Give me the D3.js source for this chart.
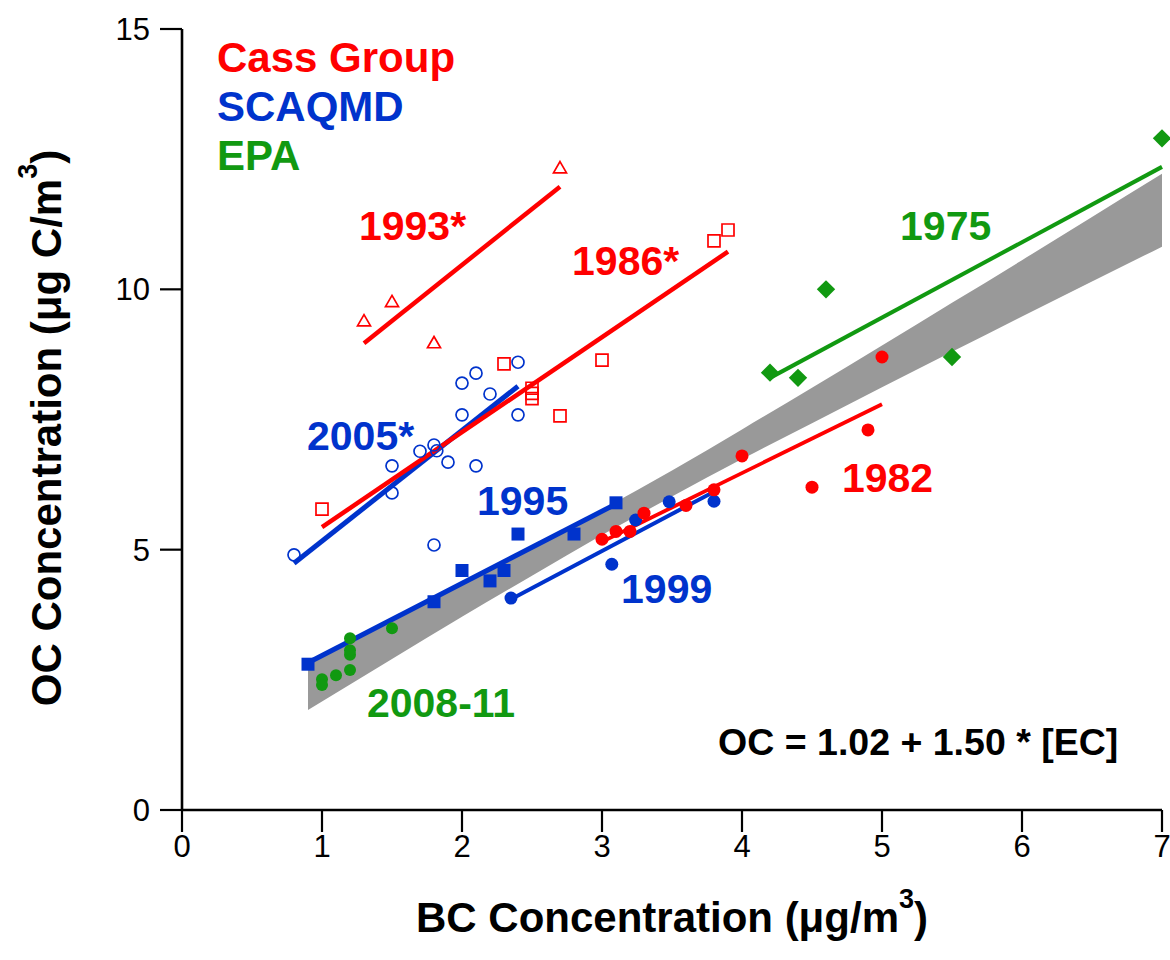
<!DOCTYPE html>
<html>
<head>
<meta charset="utf-8">
<script src="https://cdn.jsdelivr.net/npm/d3@7"></script>
<style>
  body { margin: 0; background: #fff; }
  svg { display: block; font-family: "Liberation Sans", Arial, Helvetica, sans-serif; }
</style>
</head>
<body>
<svg id="chart" width="1170" height="960"></svg>
<script>
// ---- axis ticks ----
const xTicks = [0, 1, 2, 3, 4, 5, 6, 7];
const yTicks = [0, 5, 10, 15];

// ---- Cass Group ----
const cass1993X = [1.3, 1.5, 1.8, 2.7];
const cass1993Y = [9.37, 9.74, 8.95, 12.31];
const cass1986X = [1.0, 2.3, 2.5, 2.5, 2.5, 2.7, 3.0, 3.8, 3.9];
const cass1986Y = [5.78, 8.57, 8.1, 8.0, 7.9, 7.57, 8.64, 10.93, 11.14];
const cass1982X = [3.0, 3.1, 3.2, 3.3, 3.6, 3.8, 4.0, 4.5, 4.9, 5.0];
const cass1982Y = [5.2, 5.35, 5.35, 5.7, 5.85, 6.15, 6.8, 6.2, 7.3, 8.7];

// ---- SCAQMD ----
const scaq2005X = [0.8, 1.5, 1.5, 1.7, 1.8, 1.82, 1.9, 2.1, 2.0, 2.0, 2.1, 2.2, 2.4, 2.4, 1.8];
const scaq2005Y = [4.9, 6.09, 6.61, 6.89, 7.01, 6.9, 6.68, 6.61, 7.59, 8.2, 8.39, 7.99, 8.6, 7.59, 5.09];
const scaq1995X = [0.9, 1.8, 2.0, 2.2, 2.3, 2.4, 2.8, 3.1];
const scaq1995Y = [2.8, 4.0, 4.6, 4.4, 4.6, 5.3, 5.3, 5.9];
const scaq1999X = [2.35, 3.07, 3.24, 3.48, 3.8];
const scaq1999Y = [4.07, 4.72, 5.57, 5.92, 5.93];

// ---- EPA ----
const epa1975X = [4.2, 4.4, 4.6, 5.5, 7.0];
const epa1975Y = [8.4, 8.3, 10.0, 8.7, 12.9];
const epa2008X = [1.0, 1.0, 1.1, 1.2, 1.2, 1.2, 1.2, 1.5];
const epa2008Y = [2.51, 2.40, 2.59, 2.69, 2.98, 3.07, 3.30, 3.49];

// ---- pooled fit OC = 1.02 + 1.50*[EC] with its confidence band ----
const bandX    = [0.9, 1.5, 2.0, 2.5, 3.0, 3.5, 4.0, 4.5, 5.0, 5.5, 6.0, 6.5, 7.0];
const bandLow  = [1.92, 2.90, 3.71, 4.50, 5.28, 6.02, 6.74, 7.43, 8.12, 8.80, 9.48, 10.15, 10.82];
const bandHigh = [2.82, 3.64, 4.33, 5.04, 5.77, 6.52, 7.31, 8.11, 8.92, 9.74, 10.56, 11.39, 12.22];

// ---- group legend ----
const groupNames = ["Cass Group", "SCAQMD", "EPA"];

// ---------------------------------------------------------------
const RED = "#ff0000", BLUE = "#0033cc", GREEN = "#119911", GREY = "#999999";

const svg = d3.select("#chart");
const x = d3.scaleLinear().domain([0, 7]).range([182, 1162]);
const y = d3.scaleLinear().domain([0, 15]).range([810, 29]);

const zip = (xs, ys) => xs.map((v, i) => ({ x: v, y: ys[i] }));

// ordinary least-squares line over the span of the data
function fitLine(pts) {
  const mx = d3.mean(pts, d => d.x), my = d3.mean(pts, d => d.y);
  const sxy = d3.sum(pts, d => (d.x - mx) * (d.y - my));
  const sxx = d3.sum(pts, d => (d.x - mx) ** 2);
  const b = sxy / sxx, a = my - b * mx;
  const [x0, x1] = d3.extent(pts, d => d.x);
  return [{ x: x0, y: a + b * x0 }, { x: x1, y: a + b * x1 }];
}

const series = [
  { pts: zip(scaq2005X, scaq2005Y), color: BLUE, shape: "circle", open: true, size: 6, fit: true, lw: 5 },
  { pts: zip(scaq1995X, scaq1995Y), color: BLUE, shape: "square", open: false, size: 13, fit: true, lw: 5 },
  { pts: zip(scaq1999X, scaq1999Y), color: BLUE, shape: "circle", open: false, size: 6.5, fit: true, lw: 4 },
  { pts: zip(cass1993X, cass1993Y), color: RED, shape: "triangle", open: true, size: 13, fit: true, lw: 4.5 },
  { pts: zip(cass1986X, cass1986Y), color: RED, shape: "square", open: true, size: 12, fit: true, lw: 4.5 },
  { pts: zip(cass1982X, cass1982Y), color: RED, shape: "circle", open: false, size: 6.5, fit: true, lw: 3.8 },
  { pts: zip(epa1975X, epa1975Y), color: GREEN, shape: "diamond", open: false, size: 13, fit: true, lw: 4 },
  { pts: zip(epa2008X, epa2008Y), color: GREEN, shape: "circle", open: false, size: 6, fit: false }
];

// confidence band
const area = d3.area()
  .x((d, i) => x(bandX[i]))
  .y0((d, i) => y(bandLow[i]))
  .y1((d, i) => y(bandHigh[i]))
  .curve(d3.curveMonotoneX);
svg.append("path").datum(bandX).attr("d", area).attr("fill", GREY);

// fit lines
const line = d3.line().x(d => x(d.x)).y(d => y(d.y));
series.filter(s => s.fit).forEach(s => {
  svg.append("path").datum(fitLine(s.pts)).attr("d", line)
    .attr("fill", "none").attr("stroke", s.color).attr("stroke-width", s.lw);
});

// markers
function markerPath(shape, size) {
  if (shape === "triangle") return d3.symbol(d3.symbolTriangle, size * size * Math.sqrt(3) / 4)();
  return d3.symbol(d3.symbolSquare, size * size)();
}
series.forEach(s => {
  const g = svg.append("g");
  const sel = g.selectAll("path.m").data(s.pts).join(s.shape === "circle" ? "circle" : "path");
  if (s.shape === "circle") {
    sel.attr("cx", d => x(d.x)).attr("cy", d => y(d.y)).attr("r", s.size);
  } else {
    sel.attr("d", markerPath(s.shape, s.size))
      .attr("transform", d => `translate(${x(d.x)},${y(d.y)})` + (s.shape === "diamond" ? " rotate(45)" : ""));
  }
  if (s.open) sel.attr("fill", "none").attr("stroke", s.color).attr("stroke-width", 1.7);
  else sel.attr("fill", s.color);
});

// axes: spines, outward ticks and numeric labels
const TICK = 22;
const axes = svg.append("g").attr("stroke", "#000");
axes.append("line").attr("x1", x(0)).attr("x2", x(7)).attr("y1", y(0)).attr("y2", y(0)).attr("stroke-width", 2.6);
axes.append("line").attr("x1", x(0)).attr("x2", x(0)).attr("y1", y(0)).attr("y2", y(15)).attr("stroke-width", 2.6);
axes.selectAll("line.xt").data(xTicks).join("line").attr("class", "xt")
  .attr("x1", d => x(d)).attr("x2", d => x(d)).attr("y1", y(0)).attr("y2", y(0) + TICK).attr("stroke-width", 2.2);
axes.selectAll("line.yt").data(yTicks).join("line").attr("class", "yt")
  .attr("y1", d => y(d)).attr("y2", d => y(d)).attr("x1", x(0)).attr("x2", x(0) - TICK).attr("stroke-width", 2.2);

svg.append("g").selectAll("text").data(xTicks).join("text")
  .attr("x", d => x(d)).attr("y", y(0) + TICK + 25).attr("text-anchor", "middle")
  .attr("font-size", 31).text(d => d);
svg.append("g").selectAll("text").data(yTicks).join("text")
  .attr("x", x(0) - TICK - 10).attr("y", d => y(d) + 11).attr("text-anchor", "end")
  .attr("font-size", 31).text(d => d);

// axis titles
const xt = svg.append("text").attr("x", 672).attr("y", 932).attr("text-anchor", "middle")
  .attr("font-size", 42).attr("font-weight", "bold");
xt.append("tspan").text("BC Concentration (\u03BCg/m");
xt.append("tspan").attr("font-size", 27).attr("dy", -24).text("3");
xt.append("tspan").attr("dy", 24).text(")");

const yt = svg.append("text").attr("transform", "translate(61,428) rotate(-90)").attr("text-anchor", "middle")
  .attr("font-size", 42).attr("font-weight", "bold");
yt.append("tspan").text("OC Concentration (\u03BCg C/m");
yt.append("tspan").attr("font-size", 27).attr("dy", -24).text("3");
yt.append("tspan").attr("dy", 24).text(")");

// group legend
const groupColors = [RED, BLUE, GREEN];
svg.append("g").selectAll("text").data(groupNames).join("text")
  .attr("x", 217).attr("y", (d, i) => 72 + i * 49)
  .attr("font-size", 42).attr("font-weight", "bold")
  .attr("fill", (d, i) => groupColors[i]).text(d => d);

// series year labels (positions in data units)
const yearLabels = [
  { t: "1993*", x: 1.264, y: 10.95, c: RED },
  { t: "1986*", x: 2.786, y: 10.27, c: RED },
  { t: "1982", x: 4.714, y: 6.107, c: RED },
  { t: "2005*", x: 0.893, y: 6.91, c: BLUE },
  { t: "1995", x: 2.107, y: 5.67, c: BLUE },
  { t: "1999", x: 3.136, y: 3.975, c: BLUE },
  { t: "1975", x: 5.129, y: 10.95, c: GREEN },
  { t: "2008-11", x: 1.321, y: 1.786, c: GREEN }
];
svg.append("g").selectAll("text").data(yearLabels).join("text")
  .attr("x", d => x(d.x)).attr("y", d => y(d.y))
  .attr("font-size", 41).attr("font-weight", "bold").attr("fill", d => d.c).text(d => d.t);

svg.append("text").attr("x", x(3.829)).attr("y", y(1.056))
  .attr("font-size", 37.5).attr("font-weight", "bold").attr("fill", "#000")
  .text("OC = 1.02 + 1.50 * [EC]");
</script>
</body>
</html>
